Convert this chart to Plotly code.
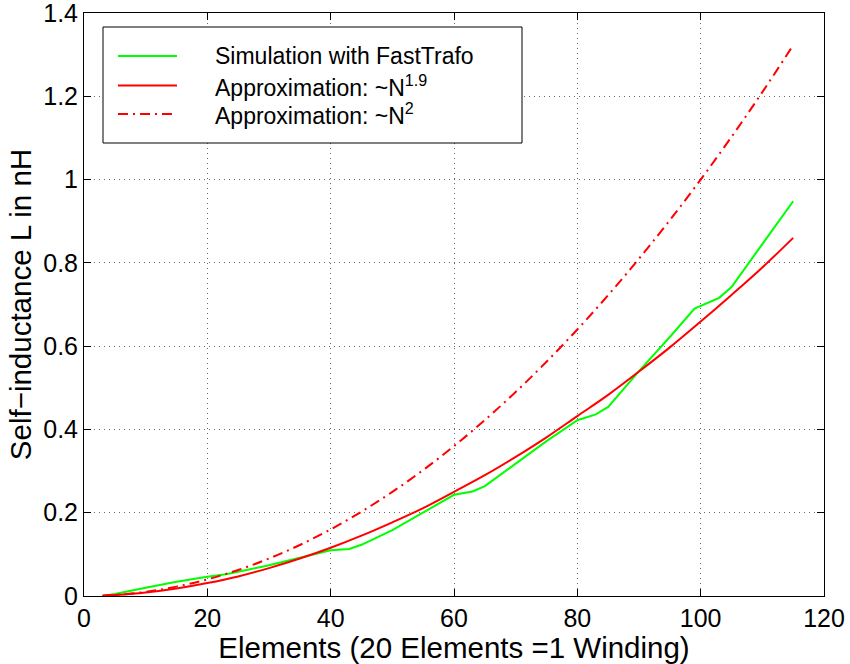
import plotly.graph_objects as go

# Number of elements (20 elements = 1 winding)
elements_sim = [3, 5, 10, 15, 20, 23, 25, 30, 35, 40, 43, 45, 50, 55, 60, 63, 65,
                70, 75, 80, 83, 85, 90, 95, 99, 103, 105, 110, 115]
# Self-inductance from the FastTrafo simulation (nH)
L_sim = [0.0, 0.005, 0.020, 0.034, 0.046, 0.052, 0.058, 0.074, 0.092, 0.110,
         0.113, 0.123, 0.158, 0.200, 0.243, 0.251, 0.264, 0.318, 0.372, 0.422,
         0.436, 0.454, 0.540, 0.622, 0.690, 0.716, 0.742, 0.845, 0.948]

# Approximation curves (nH)
elements_fit = [3, 5, 10, 15, 20, 25, 30, 35, 40, 45, 50, 55, 60, 65, 70, 75,
                80, 85, 90, 95, 100, 105, 110, 115]
L_n19 = [0.0008, 0.0022, 0.0083, 0.0179, 0.031, 0.047, 0.067, 0.090, 0.116,
         0.145, 0.177, 0.211, 0.250, 0.290, 0.334, 0.381, 0.432, 0.483, 0.539,
         0.597, 0.659, 0.723, 0.789, 0.860]
L_n2 = [0.0009, 0.0025, 0.010, 0.0225, 0.040, 0.0625, 0.090, 0.1225, 0.160,
        0.2025, 0.250, 0.3025, 0.360, 0.4225, 0.490, 0.5625, 0.640, 0.7225,
        0.810, 0.9025, 1.000, 1.1025, 1.210, 1.3225]

x_ticks = [0, 20, 40, 60, 80, 100, 120]
y_ticks = [0, 0.2, 0.4, 0.6, 0.8, 1.0, 1.2, 1.4]
y_ticktext = ["0", "0.2", "0.4", "0.6", "0.8", "1", "1.2", "1.4"]

legend_labels = ["Simulation with FastTrafo",
                 "Approximation: ~N<sup>1.9</sup>",
                 "Approximation: ~N<sup>2</sup>"]

GREEN = "#00FF00"
RED = "#FF0000"
FONT = "Liberation Sans, Arial, Helvetica, sans-serif"
DASHDOT = "10px,5px,2px,5px"

fig = go.Figure()
fig.add_trace(go.Scatter(x=elements_sim, y=L_sim, mode="lines",
                         line=dict(color=GREEN, width=2), name=legend_labels[0]))
fig.add_trace(go.Scatter(x=elements_fit, y=L_n19, mode="lines",
                         line=dict(color=RED, width=2, shape="spline"),
                         name=legend_labels[1]))
fig.add_trace(go.Scatter(x=elements_fit, y=L_n2, mode="lines",
                         line=dict(color=RED, width=2, dash=DASHDOT, shape="spline"),
                         name=legend_labels[2]))

axis_common = dict(
    showline=True, linecolor="black", linewidth=1, mirror="ticks",
    ticks="inside", ticklen=7, tickcolor="black", tickwidth=1,
    showgrid=True, gridcolor="#6a6a6a", gridwidth=1, griddash="1px,4px",
    zeroline=False, tickfont=dict(family=FONT, size=25, color="black"),
    ticklabeloverflow="allow",
)

fig.update_xaxes(range=[0, 120.00001], tickmode="array", tickvals=x_ticks,
                 ticktext=[str(v) for v in x_ticks],
                 title=dict(text="Elements (20 Elements =1 Winding)",
                            font=dict(family=FONT, size=29.5, color="black"),
                            standoff=1),
                 **axis_common)
fig.update_yaxes(range=[0, 1.4000001], tickmode="array", tickvals=y_ticks,
                 ticktext=y_ticktext,
                 title=dict(text="Self\u2212inductance L in nH",
                            font=dict(family=FONT, size=29.5, color="black"),
                            standoff=2),
                 **axis_common)

# Boxed legend in the upper-left corner of the axes
W, H = 740.0, 583.0
L0, T0 = 84.0, 13.0


def px(xp):
    return (xp - L0) / W


def py(yp):
    return (T0 + H - yp) / H


shapes = [dict(type="rect", xref="paper", yref="paper",
               x0=px(103), x1=px(522), y0=py(143), y1=py(27),
               line=dict(color="black", width=1), fillcolor="white", layer="above")]
rows = [56, 85.5, 114]
styles = [dict(color=GREEN, width=2), dict(color=RED, width=2),
          dict(color=RED, width=2, dash=DASHDOT)]
annotations = []
for yr, st, lab in zip(rows, styles, legend_labels):
    shapes.append(dict(type="line", xref="paper", yref="paper",
                       x0=px(118), x1=px(177), y0=py(yr), y1=py(yr),
                       line=st, layer="above"))
    annotations.append(dict(xref="paper", yref="paper", x=px(213), y=py(yr),
                            text=lab, showarrow=False, xanchor="left",
                            yanchor="middle",
                            font=dict(family=FONT, size=23, color="black")))

fig.update_layout(
    width=850, height=664,
    margin=dict(l=84, r=26, t=13, b=68, autoexpand=False),
    paper_bgcolor="white", plot_bgcolor="white",
    showlegend=False,
    shapes=shapes, annotations=annotations,
    font=dict(family=FONT, color="black"),
)

fig.write_html("out.html")
